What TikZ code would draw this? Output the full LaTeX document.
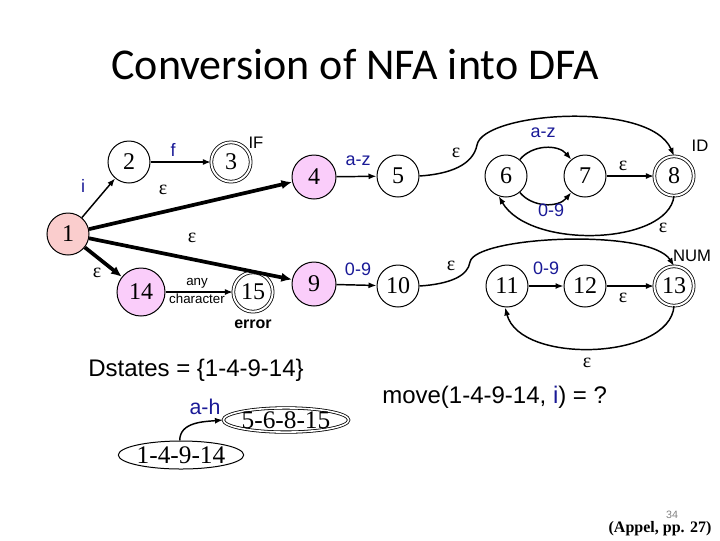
\documentclass[tikz,border=0pt]{standalone}
\usepackage{fontspec}
\setmainfont{Liberation Serif}
\setsansfont{Liberation Sans}
\newfontfamily\titlefont{Carlito}
\usetikzlibrary{arrows.meta,shapes.geometric}
\definecolor{lblue}{RGB}{25,25,150}
\definecolor{pinkA}{RGB}{250,205,205}
\definecolor{pinkB}{RGB}{250,205,250}
\begin{document}
\begin{tikzpicture}[x=0.75pt,y=-0.75pt,
  st/.style={circle,draw,line width=0.75pt,minimum size=31.5pt,inner sep=0pt,
    font=\fontsize{18}{18}\selectfont},
  acc/.style={st,double,double distance=1.5pt,line width=0.6pt,minimum size=29.5pt},
  ed/.style={line width=1.1pt,-{Latex[length=6pt,width=4.5pt]}},
  thk/.style={line width=2.8pt,-{Latex[length=8pt,width=7pt]}},
  bl/.style={text=lblue,font=\sffamily\fontsize{13.5}{13.5}\selectfont,inner sep=0pt},
  ep/.style={font=\fontsize{15}{15}\selectfont,inner sep=0pt},
  tg/.style={font=\sffamily\fontsize{12.5}{12.5}\selectfont,inner sep=0pt},
  big/.style={font=\sffamily\fontsize{18}{18}\selectfont,inner sep=0pt},
  ell/.style={ellipse,draw,line width=0.75pt,inner sep=0pt,font=\fontsize{19}{19}\selectfont}
]
\useasboundingbox (0,0) rectangle (720,540);

% title
\node[font=\titlefont\fontsize{33}{33}\selectfont,anchor=base,inner sep=0pt] (title) at (355,79) {Conversion of NFA into DFA};

% states
\node[st,fill=pinkA] (n1) at (68,234) {1};
\node[st] (n2) at (129,162) {2};
\node[acc] (n3) at (231,162) {3};
\node[st,fill=pinkB,minimum size=33pt] (n4) at (314,177) {4};
\node[st] (n5) at (398,176) {5};
\node[st] (n6) at (506,176) {6};
\node[st] (n7) at (585,176) {7};
\node[acc] (n8) at (674,176) {8};
\node[st,fill=pinkB,minimum size=36pt] (n14) at (141,292) {14};
\node[acc] (n15) at (253,292) {15};
\node[st,fill=pinkB,minimum size=33pt] (n9) at (314,284) {9};
\node[st] (n10) at (398,286) {10};
\node[st] (n11) at (507,286) {11};
\node[st] (n12) at (585,286) {12};
\node[acc] (n13) at (674,286) {13};

% edges
\draw[ed] (n1) -- (n2);
\draw[ed] (n2) -- (n3);
\draw[thk] (n1) -- (n4);
\draw[thk] (n1) -- (n9);
\draw[thk] (n1) -- (n14);
\draw[ed] (n4) -- (n5);
\draw[ed] (n5.east) .. controls (450,174) and (473,165) .. (477,145)
   .. controls (483,112) and (650,100) .. (n8.north);
\draw[ed] (n6.50) to[bend left=50] (n7.130);
\draw[ed] (n6.-50) to[bend right=50] (n7.-130);
\draw[ed] (n7) -- (n8);
\draw[ed] (n8.south) .. controls (668,245) and (530,250) .. (n6.250);
\draw[ed] (n14) -- (n15);
\draw[ed] (n9) -- (n10);
\draw[ed] (n10.east) .. controls (450,284) and (468,276) .. (470,262)
   .. controls (475,236) and (650,228) .. (n13.north);
\draw[ed] (n11) -- (n12);
\draw[ed] (n12) -- (n13);
\draw[ed] (n13.south) .. controls (670,360) and (520,365) .. (n11.265);

% labels
\node[bl] (li) at (83,186) {i};
\node[bl] (lf) at (173,150) {f};
\node[tg] (lIF) at (256,143) {IF};
\node[ep] (e14) at (163,190) {ε};
\node[ep] (e19) at (192,238) {ε};
\node[ep] (e114) at (97,273) {ε};
\node[bl] (l45) at (358,161) {a-z};
\node[ep] (e58) at (456,153) {ε};
\node[bl] (l67a) at (543,133) {a-z};
\node[bl] (l67b) at (551,210) {0-9};
\node[ep] (e78) at (623,166) {ε};
\node[tg] (lID) at (700,146) {ID};
\node[ep] (e86) at (663,228) {ε};
\node[font=\sffamily\fontsize{10}{10}\selectfont,inner sep=0pt] (lany) at (197,283) {any};
\node[font=\sffamily\fontsize{10}{10}\selectfont,inner sep=0pt] (lchar) at (197,299) {character};
\node[font=\sffamily\bfseries\fontsize{12}{12}\selectfont,inner sep=0pt] (lerr) at (253,324) {error};
\node[bl] (l910) at (358,269) {0-9};
\node[ep] (e1013) at (451,266) {ε};
\node[bl] (l1112) at (546,268) {0-9};
\node[tg] (lNUM) at (692,256) {NUM};
\node[ep] (e1213) at (623,298) {ε};
\node[ep] (e1311) at (587,363) {ε};

% lower part
\node[big,anchor=base west] (dst) at (88,376) {Dstates = \{1-4-9-14\}};
\node[big,anchor=base west] (mv) at (382,403) {move(1-4-9-14, \textcolor{lblue}{i}) = ?};
\node[ell,minimum width=77pt,minimum height=21pt] (d1) at (181,455) {1-4-9-14};
\node[ell,double,double distance=1.2pt,line width=0.6pt,minimum width=70pt,minimum height=18pt] (d2) at (286,420) {5-6-8-15};
\draw[ed] (d1.95) to[out=90,in=185] (d2.west);
\node[bl,font=\sffamily\fontsize{16}{16}\selectfont] (lah) at (205,407) {a-h};

\node[font=\sffamily\fontsize{8}{8}\selectfont,text=gray,inner sep=0pt] (pg) at (672,515) {34};
\node[font=\bfseries\fontsize{12}{12}\selectfont,inner sep=0pt] (ref) at (660,529) {(Appel, pp. 27)};
\end{tikzpicture}
\end{document}
